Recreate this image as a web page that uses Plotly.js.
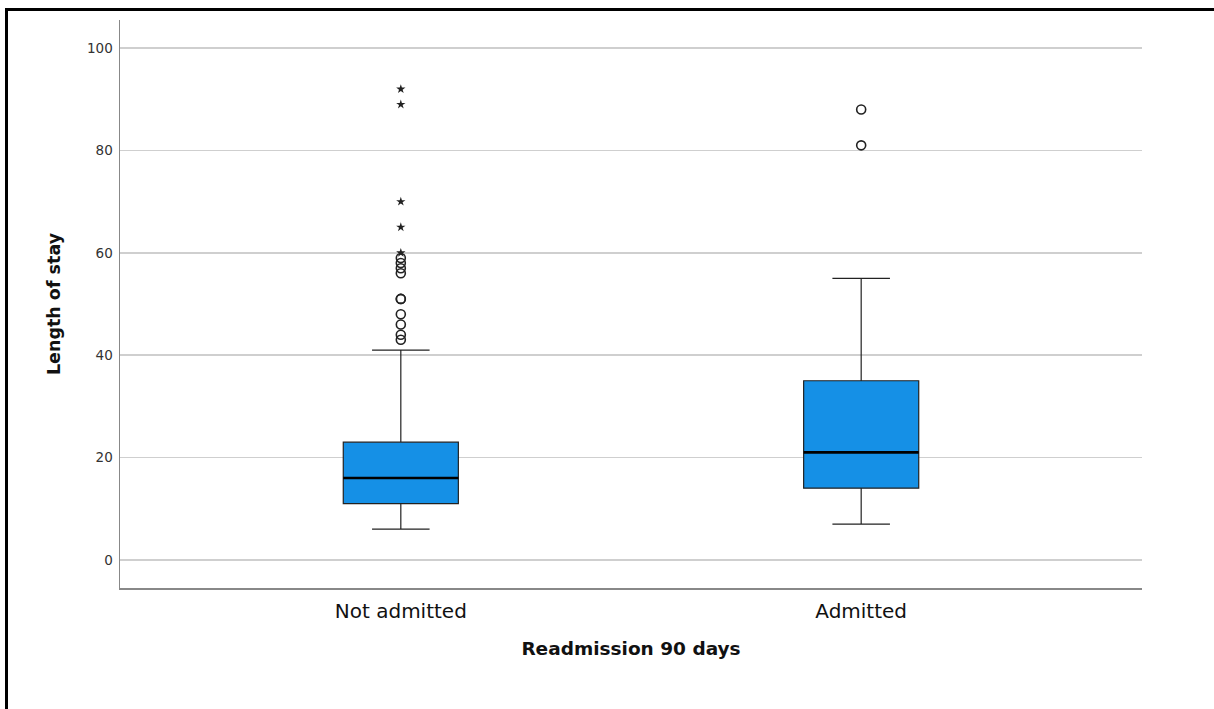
<!DOCTYPE html>
<html>
<head>
<meta charset="utf-8">
<script src="https://cdn.plot.ly/plotly-3.0.1.min.js"></script>
<style>
  html, body { margin: 0; padding: 0; background: #fff; }
  #wrap { position: relative; width: 1214px; height: 709px; overflow: hidden; }
  #frame { position: absolute; left: 5px; top: 8px; right: -10px; bottom: -10px;
           border-left: 3px solid #000; border-top: 3px solid #000; pointer-events: none; }
  #chart { position: absolute; left: 0; top: 0; width: 1214px; height: 709px; }
</style>
</head>
<body>
<div id="wrap">
  <div id="chart"></div>
  <div id="frame"></div>
</div>
<script>
// ---- Data ----
const categories = ["Not admitted", "Admitted"];
const lowerWhisker = [6, 7];
const q1 = [11, 14];
const median = [16, 21];
const q3 = [23, 35];
const upperWhisker = [41, 55];
// mild outliers (circles)
const outlierCircles = [
  [43, 44, 46, 48, 51, 51, 56, 57, 58, 59],
  [81, 88]
];
// extreme outliers (stars)
const outlierStars = [
  [60, 65, 70, 89, 92],
  []
];
const yTicks = [0, 20, 40, 60, 80, 100];

const boxColor = "#1590e6";
const boxWidth = 0.25;
const idx = categories.map((c, i) => i);

const traces = [];
traces.push({
  type: "box",
  x: idx,
  q1: q1,
  median: median,
  q3: q3,
  lowerfence: lowerWhisker,
  upperfence: upperWhisker,
  width: boxWidth,
  whiskerwidth: 0.5,
  fillcolor: boxColor,
  line: { color: "#222", width: 1.2 },
  boxpoints: false,
  hoverinfo: "skip",
  showlegend: false
});

// thicker median lines
idx.forEach(i => {
  traces.push({
    type: "scatter", mode: "lines",
    x: [i - boxWidth / 2, i + boxWidth / 2],
    y: [median[i], median[i]],
    line: { color: "#000", width: 2.6 },
    hoverinfo: "skip", showlegend: false
  });
});

// circles
const cx = [], cy = [];
idx.forEach(i => outlierCircles[i].forEach(v => { cx.push(i); cy.push(v); }));
traces.push({
  type: "scatter", mode: "markers", x: cx, y: cy,
  marker: { symbol: "circle-open", size: 9, color: "#222", line: { width: 1.6, color: "#222" } },
  hoverinfo: "skip", showlegend: false
});
// stars
const sx = [], sy = [];
idx.forEach(i => outlierStars[i].forEach(v => { sx.push(i); sy.push(v); }));
traces.push({
  type: "scatter", mode: "markers", x: sx, y: sy,
  marker: { symbol: "star", size: 7, color: "#222", line: { width: 0 } },
  hoverinfo: "skip", showlegend: false
});

const layout = {
  width: 1214, height: 709,
  margin: { l: 120, r: 72, t: 20, b: 121 },
  paper_bgcolor: "rgba(0,0,0,0)",
  plot_bgcolor: "#fff",
  showlegend: false,
  font: { family: "DejaVu Sans, Verdana, sans-serif", color: "#222" },
  xaxis: {
    range: [-0.61, 1.61],
    tickvals: idx,
    ticktext: categories,
    tickfont: { size: 20, color: "#111" },
    showgrid: false,
    zeroline: false,
    showline: true,
    linecolor: "#888",
    linewidth: 1.5,
    ticks: "",
    ticklabelstandoff: 4,
    title: { text: "<b>Readmission 90 days</b>", font: { size: 18.5, color: "#111" }, standoff: 20 }
  },
  yaxis: {
    range: [-5.5, 105.5],
    tickvals: yTicks,
    ticktext: yTicks.map(String),
    tickfont: { size: 13.5, color: "#333" },
    ticklabelstandoff: 3,
    showgrid: true,
    gridcolor: "#cfcfcf",
    gridwidth: 1.5,
    zeroline: false,
    showline: true,
    linecolor: "#888",
    linewidth: 1.5,
    ticks: "",
    title: { text: "<b>Length of stay</b>", font: { size: 17.5, color: "#111" }, standoff: 22 }
  }
};

Plotly.newPlot("chart", traces, layout, { displayModeBar: false, staticPlot: true });
</script>
</body>
</html>
